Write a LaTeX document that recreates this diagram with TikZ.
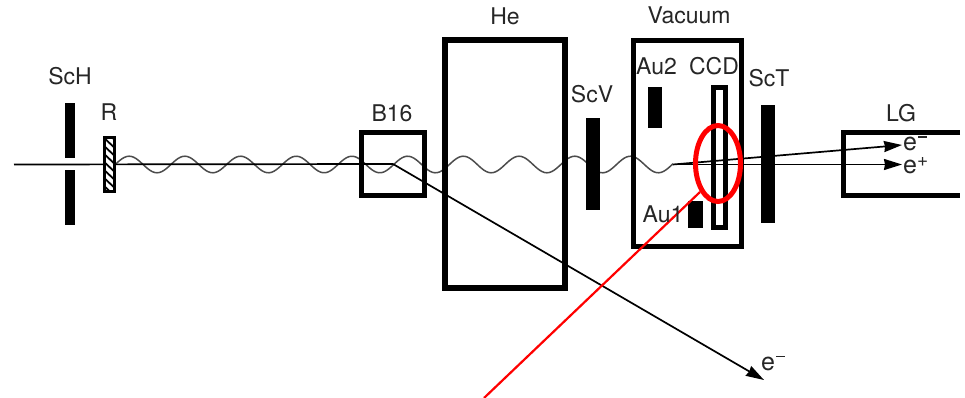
\documentclass[tikz,border=0pt]{standalone}
\usepackage{fontspec}
\setmainfont{TeX Gyre Heros}
\usetikzlibrary{arrows.meta,shapes.geometric}
\definecolor{txt}{gray}{0.15}
\newcommand{\supmin}{\hspace{1pt}\raisebox{13pt}{\rule{8.5pt}{1.5pt}}}
\newcommand{\supplus}{\hspace{0pt}\raisebox{7pt}{\fontsize{19}{19}\selectfont +}}
\tikzset{
  x=1pt,y=-1pt,
  lab/.style={anchor=base,inner sep=0pt,text=txt,font=\fontsize{23}{25}\selectfont},
  elab/.style={lab,anchor=base west,font=\fontsize{25}{27}\selectfont},
  bar/.style={fill=black,draw=none},
  frameA/.style={draw=black,line width=5pt},
  frameB/.style={draw=black,line width=6pt},
  beam/.style={draw=black,line width=1.7pt},
  ray/.style={draw=black,line width=1.7pt,-{Stealth[length=18pt,width=11pt,inset=1pt]}},
  wave/.style={draw=black!70,line width=1.5pt},
  redmark/.style={draw=red,line width=2.2pt},
}
\begin{document}
\begin{tikzpicture}
\useasboundingbox (0,0) rectangle (965,398);
% beam + wave
\coordinate (start) at (14,164.5);
\coordinate (kink) at (393,164);
\coordinate (vtx) at (673,164.5);
\coordinate (tipE) at (764,380);
\coordinate (tipM) at (902,145);
\coordinate (tipP) at (902,164.5);
\draw[wave] plot[domain=115:673,samples=240,smooth] (\x,{164.5+8.3*cos(6.4632*(\x-157))});
\draw[beam] (start) -- (kink);
\draw[ray] (kink) -- (tipE);
\draw[ray] (vtx) -- (tipM);
\draw[ray] (vtx) -- (tipP);
% ScH
\fill[bar] (65,103) rectangle (75,158);
\fill[bar] (65,170) rectangle (75,225);
% R
\fill[white] (103,136) rectangle (116,193);
\begin{scope}
\clip (105,138) rectangle (114,191);
\foreach \i in {0,...,7} \draw[black,line width=1.8pt] (102,{128+8*\i}) -- (118,{143+8*\i});
\end{scope}
\draw[black,line width=3pt] (104.5,137.5) rectangle (114.5,191.5);
% boxes
\draw[frameA] (361.5,132.5) rectangle (424.5,195.5);
\draw[frameB] (445,40) rectangle (565,288);
\fill[bar] (586,118) rectangle (600,210);
\draw[frameA] (633.5,40.5) rectangle (741.5,246.5);
\fill[bar] (648,87) rectangle (662,128);
\draw[frameA] (713.5,87.5) rectangle (725.5,227.5);
\fill[bar] (688,201) rectangle (703,228);
\fill[bar] (761,105) rectangle (775,223);
\draw[frameA] (960,132.5) -- (843.5,132.5) -- (843.5,195.5) -- (960,195.5);
% red
\node[draw=red,line width=5pt,shape=ellipse,minimum width=45pt,minimum height=76pt,inner sep=0pt] (halo) at (718,163.5) {};
\coordinate (farend) at (484,398);
\draw[redmark] (700,192) -- (farend);
% labels
\node[lab] (lScH) at (70,85) {ScH};
\node[lab] (lR) at (109,121) {R};
\node[lab] (lB) at (392,122) {B16};
\node[lab] (lHe) at (505,25) {He};
\node[lab] (lScV) at (592,103) {ScV};
\node[lab] (lVac) at (689,24) {Vacuum};
\node[lab] (lAu2) at (656.5,75) {Au2};
\node[lab] (lCCD) at (714,75) {CCD};
\node[lab] (lAu1) at (663,222) {Au1};
\node[lab] (lScT) at (769,87) {ScT};
\node[lab] (lLG) at (901,122) {LG};
\node[elab] (lEm) at (903,151) {e\supmin};
\node[elab] (lEp) at (903,174) {e\supplus};
\node[elab] (lEe) at (761,370) {e\supmin};
\end{tikzpicture}
\end{document}
